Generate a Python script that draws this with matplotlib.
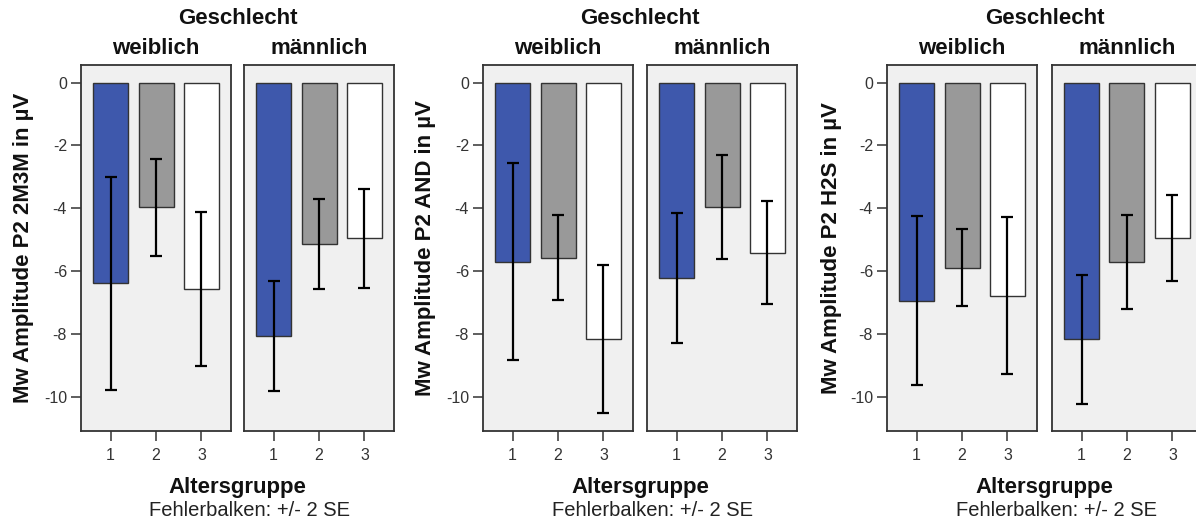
"""
P2 amplitude by age group and sex, three conditions (SPSS style bar charts).
"""

import matplotlib
matplotlib.use("Agg")
import matplotlib.pyplot as plt
from matplotlib import font_manager


# =====================================================
# Data
# =====================================================

age_groups = ["1", "2", "3"]
sexes = ["weiblich", "männlich"]

ylabels = [
    "Mw Amplitude P2 2M3M in µV",
    "Mw Amplitude P2 AND in µV",
    "Mw Amplitude P2 H2S in µV",
]

mean_2m3m_weiblich = [-6.39, -3.97, -6.58]
mean_2m3m_maennlich = [-8.06, -5.15, -4.96]
se2_2m3m_weiblich = [3.39, 1.55, 2.45]
se2_2m3m_maennlich = [1.75, 1.43, 1.58]

mean_and_weiblich = [-5.70, -5.57, -8.16]
mean_and_maennlich = [-6.23, -3.97, -5.41]
se2_and_weiblich = [3.13, 1.36, 2.35]
se2_and_maennlich = [2.07, 1.66, 1.64]

mean_h2s_weiblich = [-6.94, -5.89, -6.79]
mean_h2s_maennlich = [-8.17, -5.70, -4.95]
se2_h2s_weiblich = [2.68, 1.23, 2.50]
se2_h2s_maennlich = [2.05, 1.50, 1.36]

yticks = [0, -2, -4, -6, -8, -10]

bar_colors = ["#3E58AC", "#999999", "#FFFFFF"]


# =====================================================
# Layout (pixels of the 1196 x 526 image)
# =====================================================

W, H = 1196, 526
AX_TOP, AX_BOTTOM = 65, 431
PANEL_LEFTS = [(81, 244), (483, 647), (887, 1052)]
PANEL_W = 150

FONT = "Liberation Sans"


def find_font(bold):
    # pick the normal-width Liberation Sans file (not Narrow)
    for f in font_manager.fontManager.ttflist:
        if f.name != "Liberation Sans":
            continue
        if "Narrow" in f.fname:
            continue
        is_bold = f.weight in (700, "bold")
        if bold == is_bold and f.style == "normal":
            return font_manager.FontProperties(fname=f.fname)
    return font_manager.FontProperties(
        family=FONT, weight="bold" if bold else "normal"
    )


def fx(px):
    return px / W


def fy(py):
    return 1 - py / H


def draw_panel(ax, means, se2, show_y, fp_reg):

    x = [1, 2, 3]

    ax.bar(
        x,
        means,
        width=0.77,
        color=bar_colors,
        edgecolor="#333333",
        linewidth=1.0,
        zorder=2
    )

    ax.errorbar(
        x,
        means,
        yerr=se2,
        fmt="none",
        ecolor="black",
        elinewidth=1.6,
        capsize=4.5,
        capthick=1.6,
        zorder=3
    )

    ax.set_facecolor("#F0F0F0")
    ax.set_xlim(0.35, 3.65)
    ax.set_ylim(-11.09, 0.56)

    ax.set_xticks(x)
    ax.set_xticklabels(age_groups, fontproperties=fp_reg, fontsize=11.5,
                       color="#333333")

    for s in ax.spines.values():
        s.set_color("#333333")
        s.set_linewidth(1.3)

    ax.tick_params(axis="x", length=7, width=1.1, color="#333333", pad=5)

    if show_y:
        ax.set_yticks(yticks)
        ax.set_yticklabels(
            [str(v) for v in yticks],
            fontproperties=fp_reg,
            fontsize=11.5,
            color="#333333"
        )
        ax.tick_params(axis="y", length=7, width=1.1, color="#333333", pad=3)
    else:
        ax.set_yticks([])


# =====================================================
# Plot
# =====================================================

def plot_charts():

    fp_bold = find_font(True)
    fp_bold.set_size(16)
    fp_reg = find_font(False)

    fig = plt.figure(
        figsize=(W / 100, H / 100),
        dpi=100
    )
    fig.patch.set_facecolor("white")

    data = [
        (mean_2m3m_weiblich, se2_2m3m_weiblich, mean_2m3m_maennlich, se2_2m3m_maennlich),
        (mean_and_weiblich, se2_and_weiblich, mean_and_maennlich, se2_and_maennlich),
        (mean_h2s_weiblich, se2_h2s_weiblich, mean_h2s_maennlich, se2_h2s_maennlich),
    ]

    ylabel_x = [24, 426, 832]

    for i, (mw, sw, mm, sm) in enumerate(data):

        left_w, left_m = PANEL_LEFTS[i]

        ax_w = fig.add_axes([
            fx(left_w), fy(AX_BOTTOM),
            fx(PANEL_W), (AX_BOTTOM - AX_TOP) / H
        ])
        ax_m = fig.add_axes([
            fx(left_m), fy(AX_BOTTOM),
            fx(PANEL_W), (AX_BOTTOM - AX_TOP) / H
        ])

        draw_panel(ax_w, mw, sw, True, fp_reg)
        draw_panel(ax_m, mm, sm, False, fp_reg)

        center = (left_w + left_m + PANEL_W) / 2

        fig.text(
            fx(center), fy(19), "Geschlecht",
            ha="center", va="center",
            fontproperties=fp_bold, color="#111111"
        )

        for left, name in zip((left_w, left_m), sexes):
            fig.text(
                fx(left + PANEL_W / 2), fy(49), name,
                ha="center", va="center",
                fontproperties=fp_bold, color="#111111"
            )

        fig.text(
            fx(ylabel_x[i]), fy(248), ylabels[i],
            ha="center", va="center", rotation=90,
            fontproperties=fp_bold, color="#111111"
        )

        fig.text(
            fx(center), fy(487), "Altersgruppe",
            ha="center", va="center",
            fontproperties=fp_bold, color="#111111"
        )

        fig.text(
            fx(center + 12), fy(510), "Fehlerbalken: +/- 2 SE",
            ha="center", va="center", fontproperties=fp_reg,
            fontsize=14.5, color="#222222"
        )

    fig.savefig("out.png", dpi=100)
    plt.close(fig)


# =====================================================
# Main
# =====================================================

if __name__ == "__main__":

    plot_charts()
